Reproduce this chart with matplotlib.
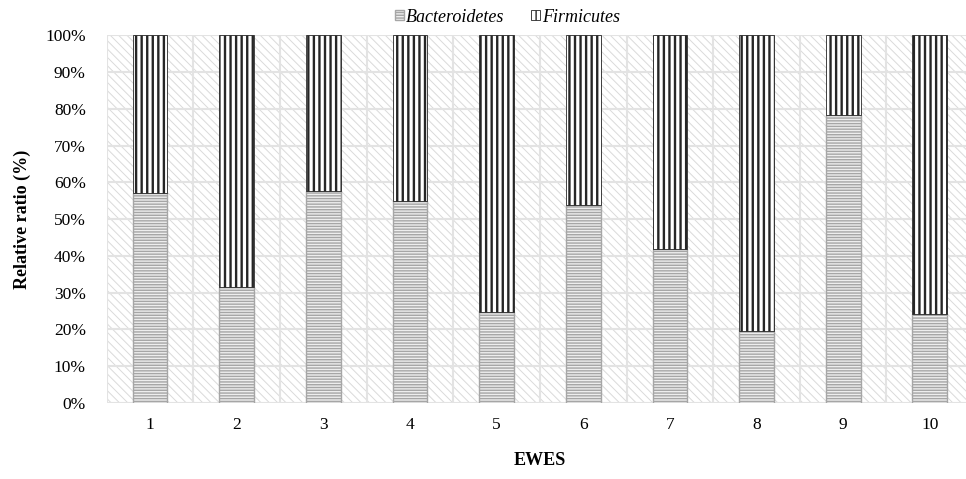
import matplotlib
matplotlib.use("Agg")
import matplotlib.pyplot as plt
from matplotlib.patches import Rectangle
import numpy as np

# Data
ewes = ["1", "2", "3", "4", "5", "6", "7", "8", "9", "10"]
bacteroidetes = [57.1, 31.4, 57.7, 55.0, 24.7, 53.9, 41.8, 19.6, 78.3, 24.2]
firmicutes = [100 - b for b in bacteroidetes]
y_ticks = [0, 10, 20, 30, 40, 50, 60, 70, 80, 90, 100]

plt.rcParams["font.family"] = ["Liberation Serif", "DejaVu Serif"]

fig = plt.figure(figsize=(9.66, 4.79), dpi=100)
ax = fig.add_axes([0.1104, 0.1593, 0.897, 0.7666])

x = np.arange(len(ewes))

# Hatched plot-area background
with plt.rc_context({"hatch.linewidth": 0.7}):
    bg = Rectangle((0, 0), 1, 1, transform=ax.transAxes, facecolor="white",
                   edgecolor="#dadada", hatch="\\\\\\\\", linewidth=0, zorder=0)
    ax.add_patch(bg)

with plt.rc_context({"hatch.linewidth": 1.0}):
    b1 = ax.bar(x, bacteroidetes, width=0.4, color="#eeeeee", edgecolor="#a6a6a6",
                hatch="------", linewidth=1.0, zorder=3, label="Bacteroidetes")

with plt.rc_context({"hatch.linewidth": 1.7}):
    b2 = ax.bar(x, firmicutes, bottom=bacteroidetes, width=0.4, color="white",
                edgecolor="#262626", hatch="|||", linewidth=0.6, zorder=3,
                label="Firmicutes")

# Axes formatting
ax.set_xlim(-0.5, len(ewes) - 0.5)
ax.set_ylim(0, 100)
ax.set_xticks(x)
ax.set_xticklabels(ewes)
ax.set_xticks(np.arange(-0.5, len(ewes), 1.0), minor=True)
ax.set_yticks(y_ticks)
ax.set_yticklabels([f"{t}%" for t in y_ticks])
ax.tick_params(axis="both", which="both", length=0, labelsize=12.5, colors="black")
ax.tick_params(axis="x", pad=10)
ax.tick_params(axis="y", pad=15)

ax.grid(axis="y", which="major", color="#e3e3e3", linewidth=1.5, zorder=1)
ax.grid(axis="x", which="minor", color="#e3e3e3", linewidth=1.5, zorder=1)
ax.grid(axis="x", which="major", visible=False)
ax.set_axisbelow(True)
for s in ax.spines.values():
    s.set_visible(False)

ax.set_ylabel("Relative ratio (%)", fontsize=13, fontweight="bold", labelpad=10)
ax.set_xlabel("EWES", fontsize=13, fontweight="bold", labelpad=14)

fig.legend(handles=[b1, b2], loc="center", bbox_to_anchor=(0.5254, 0.9645),
           ncol=2, frameon=False, prop={"style": "italic", "size": 13},
           handlelength=0.5, handleheight=0.5, handletextpad=0.12,
           columnspacing=1.5)

fig.savefig("out.png", dpi=100)
